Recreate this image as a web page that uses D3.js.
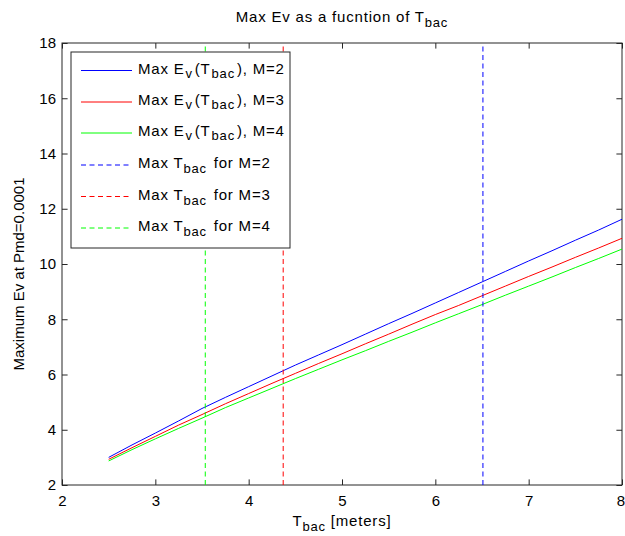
<!DOCTYPE html>
<html>
<head>
<meta charset="utf-8">
<script src="https://cdn.jsdelivr.net/npm/d3@7"></script>
<style>
  html, body { margin: 0; padding: 0; background: #fff; }
  svg text { font-family: "Liberation Sans", Arial, Helvetica, sans-serif; fill: #000; }
</style>
</head>
<body>
<svg id="chart" width="625" height="536"></svg>
<script>
// ---- data ----
const tbac = [2.5, 2.75, 3.0, 3.25, 3.5, 3.75, 4.0, 4.25, 4.5, 4.75, 5.0, 5.25, 5.5, 5.75, 6.0, 6.25, 6.5, 6.75, 7.0, 7.25, 7.5, 7.75, 8.0];
const evM2 = [3.00, 3.45, 3.88, 4.32, 4.77, 5.17, 5.56, 5.95, 6.34, 6.71, 7.08, 7.46, 7.84, 8.21, 8.59, 8.97, 9.35, 9.73, 10.11, 10.48, 10.86, 11.23, 11.62];
const evM3 = [2.93, 3.35, 3.76, 4.17, 4.55, 4.94, 5.31, 5.68, 6.04, 6.40, 6.75, 7.11, 7.46, 7.82, 8.17, 8.50, 8.85, 9.20, 9.55, 9.89, 10.24, 10.58, 10.93];
const evM4 = [2.87, 3.28, 3.67, 4.05, 4.42, 4.80, 5.15, 5.50, 5.85, 6.19, 6.53, 6.86, 7.20, 7.53, 7.87, 8.20, 8.53, 8.87, 9.20, 9.53, 9.87, 10.20, 10.54];
const maxTbac = [6.51, 4.37, 3.535];          // for M=2, M=3, M=4
const mValues = [2, 3, 4];
const colors = ["#0000ff", "#ff0000", "#00ff00"];
const xTicks = [2, 3, 4, 5, 6, 7, 8];
const yTicks = [2, 4, 6, 8, 10, 12, 14, 16, 18];
const xDomain = [2, 8];
const yDomain = [2, 18];

// ---- layout ----
const svg = d3.select("#chart");
const L = 62, R = 622, T = 43, B = 485;
const x = d3.scaleLinear().domain(xDomain).range([L, R]);
const y = d3.scaleLinear().domain(yDomain).range([B, T]);
const FS = 15, SUB = 13, LS = "0.8px";
const axisColor = "#262626";
const tl = 5.6;

function styleAxis(g) {
  g.select(".domain").remove();
  g.selectAll(".tick line").attr("stroke", axisColor);
  g.selectAll(".tick text").style("font-size", FS + "px").attr("fill", "#000");
}
svg.append("g").attr("transform", `translate(0,${B})`)
  .call(d3.axisBottom(x).tickValues(xTicks).tickFormat(d3.format("d")).tickSizeInner(-tl).tickSizeOuter(0).tickPadding(10))
  .call(styleAxis)
  .call(g => g.selectAll(".tick text").filter(d => d === xDomain[1]).attr("dx", -1.5));
svg.append("g").attr("transform", `translate(0,${T})`)
  .call(d3.axisTop(x).tickValues(xTicks).tickFormat("").tickSizeInner(-tl).tickSizeOuter(0))
  .call(styleAxis);
svg.append("g").attr("transform", `translate(${L},0)`)
  .call(d3.axisLeft(y).tickValues(yTicks).tickFormat(d3.format("d")).tickSizeInner(-tl).tickSizeOuter(0).tickPadding(6))
  .call(styleAxis);
svg.append("g").attr("transform", `translate(${R},0)`)
  .call(d3.axisRight(y).tickValues(yTicks).tickFormat("").tickSizeInner(-tl).tickSizeOuter(0))
  .call(styleAxis);

svg.append("rect").attr("x", L).attr("y", T).attr("width", R - L).attr("height", B - T)
  .attr("fill", "none").attr("stroke", axisColor).attr("stroke-width", 1);

// data lines
const series = [evM2, evM3, evM4];
const line = d3.line().x((d, i) => x(tbac[i])).y(d => y(d));
const plot = svg.append("g");
series.forEach((s, k) => {
  plot.append("path").datum(s).attr("d", line)
    .attr("fill", "none").attr("stroke", colors[k]).attr("stroke-width", 1);
});
maxTbac.forEach((v, k) => {
  plot.append("line")
    .attr("x1", x(v)).attr("x2", x(v)).attr("y1", y(yDomain[0])).attr("y2", y(yDomain[1]))
    .attr("stroke", colors[k]).attr("stroke-width", 1).attr("stroke-dasharray", "5,3.5");
});

// title
const title = svg.append("text").attr("x", (L + R) / 2).attr("y", 22)
  .attr("text-anchor", "middle").style("font-size", FS + "px").style("letter-spacing", LS);
title.append("tspan").text("Max Ev as a fucntion of T");
title.append("tspan").attr("dy", 5).style("font-size", SUB + "px").text("bac");

// x label
const xl = svg.append("text").attr("x", (L + R) / 2).attr("y", 526)
  .attr("text-anchor", "middle").style("font-size", FS + "px").style("letter-spacing", LS);
xl.append("tspan").text("T");
xl.append("tspan").attr("dy", 5).style("font-size", SUB + "px").text("bac");
xl.append("tspan").attr("dy", -5).text(" [meters]");

// y label
svg.append("text").attr("transform", `translate(24,274) rotate(-90)`)
  .attr("text-anchor", "middle").style("font-size", FS + "px")
  .text("Maximum Ev at Pmd=0.0001");

// legend
const lg = svg.append("g");
lg.append("rect").attr("x", 71).attr("y", 52).attr("width", 219).attr("height", 196)
  .attr("fill", "#fff").attr("stroke", axisColor).attr("stroke-width", 1);
const rowY = [70.5, 102, 133, 165, 196.5, 228];
const entries = [];
mValues.forEach((m, k) => entries.push({type: "E", m, color: colors[k]}));
mValues.forEach((m, k) => entries.push({type: "T", m, color: colors[k]}));
entries.forEach((e, i) => {
  const yy = rowY[i];
  lg.append("line").attr("x1", 81).attr("x2", 132).attr("y1", yy).attr("y2", yy)
    .attr("stroke", e.color).attr("stroke-width", 1)
    .attr("stroke-dasharray", e.type === "T" ? "5,3.5" : null);
  const t = lg.append("text").attr("x", 138).attr("y", yy + 3)
    .style("font-size", FS + "px").style("letter-spacing", LS);
  if (e.type === "E") {
    t.append("tspan").text("Max E");
    t.append("tspan").attr("dy", 4).attr("dx", 1).style("font-size", SUB + "px").text("v");
    t.append("tspan").attr("dy", -4).attr("dx", 2).text("(T");
    t.append("tspan").attr("dy", 4).attr("dx", 1).style("font-size", SUB + "px").text("bac");
    t.append("tspan").attr("dy", -4).attr("dx", 2).text("), M=" + e.m);
  } else {
    t.append("tspan").text("Max T");
    t.append("tspan").attr("dy", 5).style("font-size", SUB + "px").text("bac");
    t.append("tspan").attr("dy", -5).attr("dx", 2).text(" for M=" + e.m);
  }
});
</script>
</body>
</html>
